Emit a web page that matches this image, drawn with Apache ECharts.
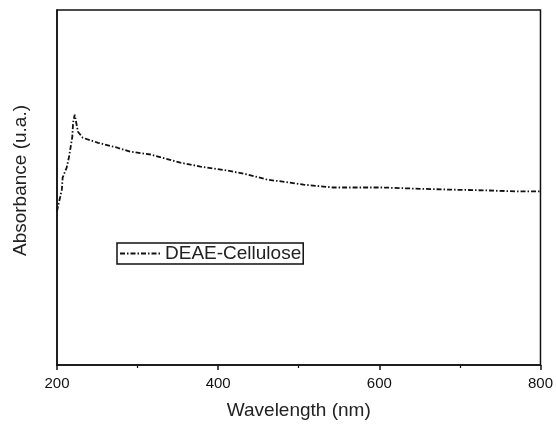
<!DOCTYPE html>
<html><head><meta charset="utf-8">
<script src="https://cdn.jsdelivr.net/npm/echarts@6/dist/echarts.min.js"></script>
<style>html,body{margin:0;padding:0;background:#fff}#c{width:556px;height:425px}</style>
</head><body><div id="c"></div>
<script>
var seriesName = 'DEAE-Cellulose';
var wavelength = [200,201,206,207,212,215,219,220,222,226,232,251,275,291,316,353,378,411,436,461,489,506,543,605,642,688,729,771,800];
var absorbance = [0.433,0.444,0.494,0.528,0.556,0.587,0.643,0.683,0.705,0.657,0.640,0.626,0.612,0.601,0.593,0.570,0.559,0.548,0.537,0.522,0.514,0.508,0.500,0.500,0.497,0.494,0.492,0.489,0.489];
var xTicks = [200,400,600,800];

var data = wavelength.map(function(w,i){return [w, absorbance[i]];});
var chart = echarts.init(document.getElementById('c'));
chart.setOption({
  animation:false,
  backgroundColor:'#fff',
  grid:{left:57,right:15,top:10,bottom:58,show:true,borderColor:'#111',borderWidth:1.5},
  legend:{
    data:[seriesName],left:117,top:243,
    borderColor:'#111',borderWidth:1.5,padding:[1,2,1,2],
    itemWidth:40,itemHeight:10,itemGap:4,
    itemStyle:{opacity:0},
    textStyle:{fontFamily:'Liberation Sans, Arial',fontSize:19,color:'#222'}
  },
  xAxis:{
    type:'value',min:xTicks[0],max:xTicks[xTicks.length-1],interval:200,
    name:'Wavelength (nm)',nameLocation:'middle',nameGap:36,
    nameTextStyle:{fontFamily:'Liberation Sans, Arial',fontSize:19,color:'#222'},
    axisLine:{lineStyle:{color:'#111',width:1.5}},
    axisTick:{show:true,inside:false,length:5,lineStyle:{color:'#111',width:1.5}},
    minorTick:{show:true,splitNumber:2,length:3,lineStyle:{color:'#111',width:1.2}},
    axisLabel:{fontFamily:'Liberation Sans, Arial',fontSize:15,color:'#111',margin:11},
    splitLine:{show:false}
  },
  yAxis:{
    type:'value',min:0,max:1,
    name:'Absorbance (u.a.)',nameLocation:'middle',nameGap:27,
    nameTextStyle:{fontFamily:'Liberation Sans, Arial',fontSize:19,color:'#222',padding:[0,0,0,14]},
    axisLine:{show:true,lineStyle:{color:'#111',width:1.5}},
    axisTick:{show:false},axisLabel:{show:false},splitLine:{show:false}
  },
  series:[{
    name:seriesName,type:'line',data:data,showSymbol:false,symbol:'none',
    lineStyle:{color:'#111',width:1.8,type:[5,2,1.5,2]},
    itemStyle:{color:'#111'}
  }]
});
</script></body></html>
